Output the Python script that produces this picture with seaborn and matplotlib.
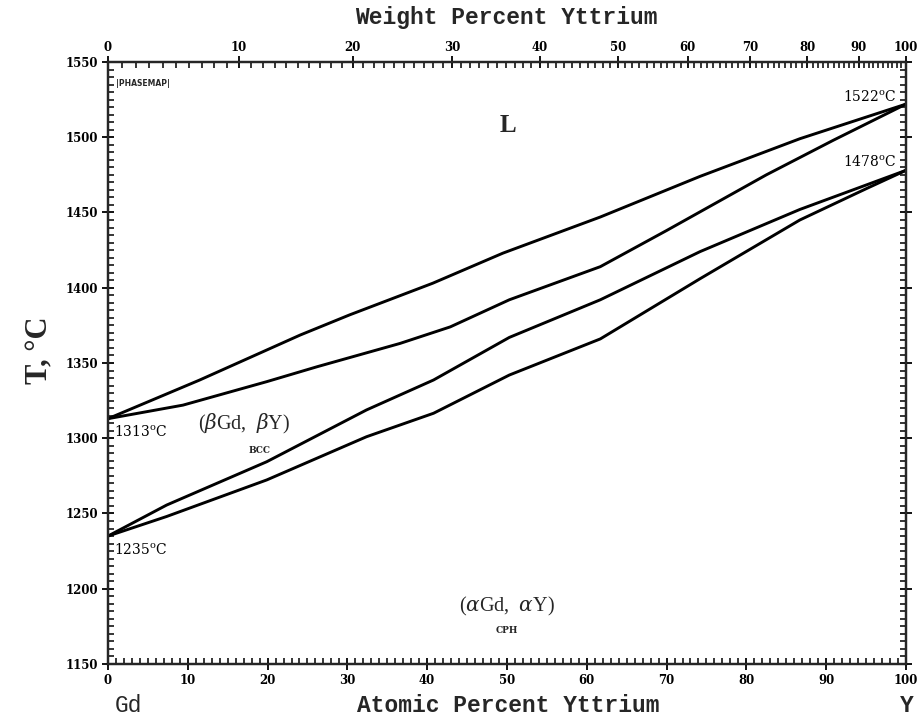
import numpy as np
import pandas as pd
import matplotlib
matplotlib.use("Agg")
import matplotlib.pyplot as plt
from matplotlib.ticker import FixedLocator, MultipleLocator
import seaborn as sns

# ---------------- data ----------------
liquidus_x = [0, 11.5, 24.1, 30.3, 40.7, 49.5, 61.7, 74.2, 86.7, 100]
liquidus_T = [1313, 1338.7, 1368.6, 1382, 1403, 1423, 1447, 1474, 1499, 1522]

bcc_solidus_x = [0, 9.4, 19.9, 26.2, 36.6, 42.9, 50.3, 61.7, 70, 82.5, 90.9, 100]
bcc_solidus_T = [1313, 1322, 1337.6, 1347.5, 1363, 1374, 1392, 1414, 1438, 1475, 1498, 1522]

bcc_lower_x = [0, 7.35, 19.9, 32.4, 40.8, 50.3, 61.7, 74.2, 86.7, 100]
bcc_lower_T = [1235, 1255.6, 1284.4, 1318.8, 1338.7, 1367, 1392, 1424, 1452, 1478]

cph_upper_x = [0, 7.35, 19.9, 32.4, 40.8, 50.3, 61.7, 74.2, 86.7, 95.1, 100]
cph_upper_T = [1235, 1248, 1272.3, 1301, 1316.6, 1342, 1366, 1406, 1445, 1466, 1478]

weight_ticks = [0, 10, 20, 30, 40, 50, 60, 70, 80, 90, 100]
temp_ticks = [1150, 1200, 1250, 1300, 1350, 1400, 1450, 1500, 1550]
at_ticks = [0, 10, 20, 30, 40, 50, 60, 70, 80, 90, 100]

M_GD, M_Y = 157.25, 88.906

def wt_to_at(w):
    w = np.asarray(w, dtype=float)
    ny = w / M_Y
    ng = (100 - w) / M_GD
    return 100 * ny / (ny + ng)

frames = []
for name, xs, ts in [("liq", liquidus_x, liquidus_T),
                     ("sol", bcc_solidus_x, bcc_solidus_T),
                     ("bcc", bcc_lower_x, bcc_lower_T),
                     ("cph", cph_upper_x, cph_upper_T)]:
    frames.append(pd.DataFrame({"x": xs, "T": ts, "curve": name}))
df = pd.concat(frames, ignore_index=True)

# ---------------- figure ----------------
sns.set_theme(style="ticks")
plt.rcParams["font.family"] = ["DejaVu Serif", "DejaVu Sans"]
plt.rcParams["mathtext.fontset"] = "dejavuserif"

fig = plt.figure(figsize=(9.22, 7.19), dpi=100)
ax = fig.add_axes([0.1171, 0.0765, 0.8655, 0.8373])

sns.lineplot(data=df, x="x", y="T", units="curve", estimator=None, sort=False,
             color="black", linewidth=2.1, ax=ax, legend=False)
for ln in ax.lines:
    ln.set_solid_joinstyle("round")
    ln.set_solid_capstyle("round")

ax.set_xlim(0, 100)
ax.set_ylim(1150, 1550)
for s in ax.spines.values():
    s.set_linewidth(1.6)
    s.set_color("black")

tick_font = dict(fontsize=8.5, fontweight="bold", family="DejaVu Serif")

ax.xaxis.set_major_locator(FixedLocator(at_ticks))
ax.xaxis.set_minor_locator(MultipleLocator(1))
ax.yaxis.set_major_locator(FixedLocator(temp_ticks))
ax.yaxis.set_minor_locator(MultipleLocator(5))
ax.set_xticklabels([str(v) for v in at_ticks], **tick_font)
ax.set_yticklabels([str(v) for v in temp_ticks], **tick_font)
ax.tick_params(axis="both", which="major", direction="inout", length=8, width=1.3,
               colors="black", pad=3, right=True)
ax.tick_params(axis="both", which="minor", direction="in", length=4, width=1.1,
               colors="black", right=True)
ax.set_xlabel("")
ax.set_ylabel("")

# top weight-percent axis
ax2 = ax.twiny()
ax2.set_xlim(0, 100)
ax2.xaxis.set_major_locator(FixedLocator(wt_to_at(weight_ticks)))
ax2.xaxis.set_minor_locator(FixedLocator(wt_to_at(np.arange(0, 101, 1))))
ax2.set_xticklabels([str(v) for v in weight_ticks], **tick_font)
ax2.tick_params(axis="x", which="major", direction="inout", length=8, width=1.3,
                colors="black", pad=2)
ax2.tick_params(axis="x", which="minor", direction="in", length=4, width=1.1,
                colors="black")
for s in ax2.spines.values():
    s.set_linewidth(1.6)

# axis titles
mono = dict(family="Liberation Mono", fontweight="bold", fontsize=16.5)
fig.text(0.551, 0.019, "Atomic Percent Yttrium", ha="center", va="center", **mono)
fig.text(0.549, 0.975, "Weight Percent Yttrium", ha="center", va="center", **mono)
fig.text(0.139, 0.019, "Gd", ha="center", va="center", family="Liberation Mono", fontsize=16.5)
fig.text(0.983, 0.019, "Y", ha="center", va="center", family="Liberation Mono",
         fontweight="bold", fontsize=16.5)
fig.text(0.043, 0.513, "T, °C", ha="center", va="center", rotation=90,
         family="Liberation Serif", fontweight="bold", fontsize=22)

# annotations
lab = dict(fontsize=10, family="DejaVu Serif", color="black")
ax.text(98.8, 1526.5, r"1522$^{\mathrm{o}}$C", ha="right", va="center", **lab)
ax.text(98.8, 1483.5, r"1478$^{\mathrm{o}}$C", ha="right", va="center", **lab)
ax.text(0.7, 1304, r"1313$^{\mathrm{o}}$C", ha="left", va="center", **lab)
ax.text(0.7, 1225.5, r"1235$^{\mathrm{o}}$C", ha="left", va="center", **lab)
ax.text(50.1, 1508, "L", ha="center", va="center", fontsize=18,
        family="Liberation Serif", fontweight="bold")
ax.text(17.0, 1309.5, r"($\beta$Gd,  $\beta$Y)", ha="center", va="center",
        fontsize=14.5, family="Liberation Serif")
ax.text(19.0, 1292, "BCC", ha="center", va="center", fontsize=6.5,
        family="DejaVu Serif", fontweight="bold")
ax.text(50.0, 1188.5, r"($\alpha$Gd,  $\alpha$Y)", ha="center", va="center",
        fontsize=14.5, family="Liberation Serif")
ax.text(50.0, 1172.5, "CPH", ha="center", va="center", fontsize=6.5,
        family="DejaVu Serif", fontweight="bold")
ax.text(1.0, 1536, "|PHASEMAP|", ha="left", va="center", fontsize=5.5,
        family="DejaVu Sans", fontweight="bold")

fig.savefig("out.png", dpi=100)
